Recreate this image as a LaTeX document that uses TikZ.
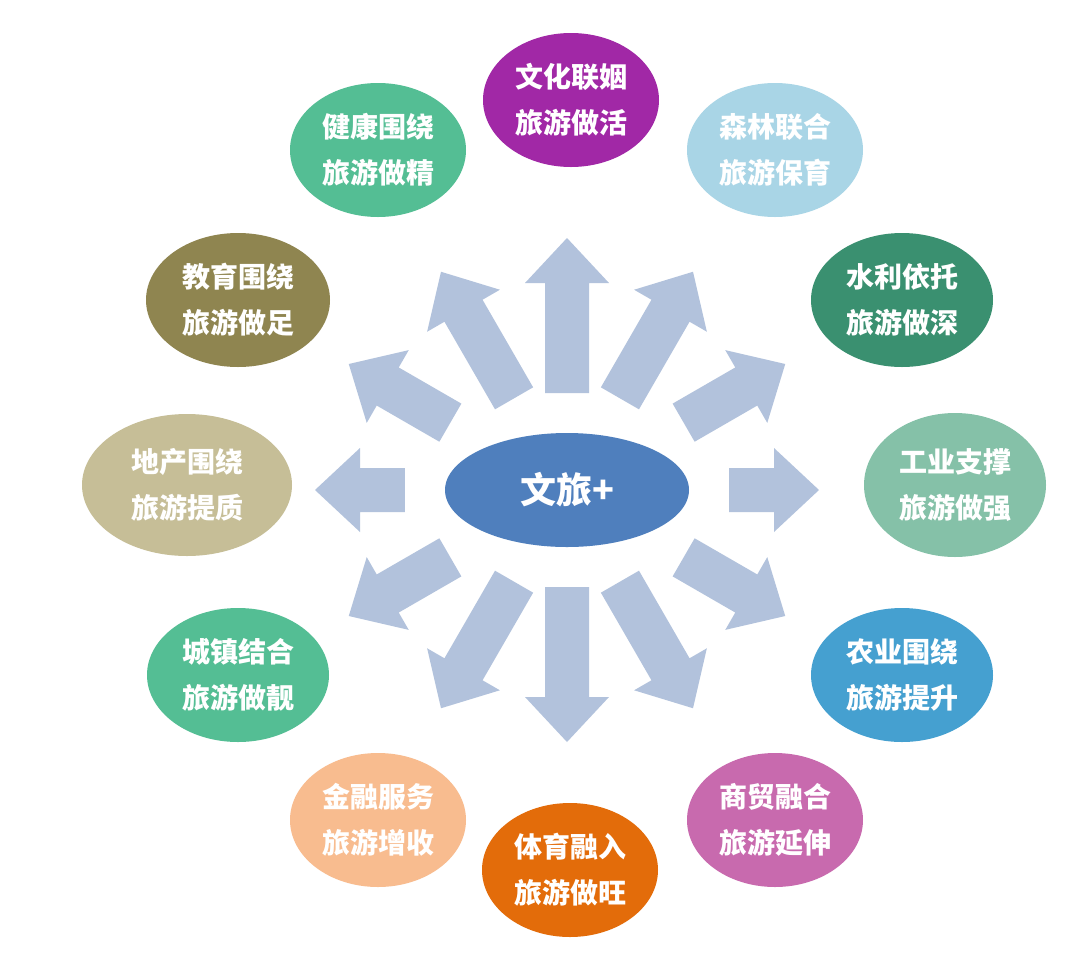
\documentclass[tikz,border=0pt]{standalone}
\usepackage{fontspec}
\newfontfamily\cjk{Noto Sans CJK SC}
\usetikzlibrary{shapes.geometric}
\definecolor{arr}{HTML}{B2C2DC}
\tikzset{
  bub/.style={ellipse, minimum width=176pt, minimum height=134pt, inner sep=0pt, text=white, align=center, font=\cjk\bfseries\fontsize{28}{46}\selectfont},
}
\begin{document}
\begin{tikzpicture}[x=1pt,y=-1pt]
\useasboundingbox (0,0) rectangle (1080,970);
\fill[white] (0,0) rectangle (1080,970);
\foreach \a in {0,30,...,330}{
  \pgfmathsetmacro{\rr}{100/sqrt((cos(\a)/1.62)^2+(sin(\a)/0.97)^2)}
  \begin{scope}[shift={(567,490)},rotate=\a]
    \fill[arr] (\rr,-22) -- (207,-22) -- (207,-42) -- (252,0) -- (207,42) -- (207,22) -- (\rr,22) -- cycle;
  \end{scope}
}
\node[ellipse, minimum width=244pt, minimum height=114pt, fill={rgb,255:red,79;green,127;blue,189}, text=white, font=\cjk\bfseries\fontsize{36}{40}\selectfont] (c) at (567,490) {文旅+};
\node[bub, fill={rgb,255:red,161;green,40;blue,166}] (n1) at (571,100) {文化联姻\\旅游做活};
\node[bub, fill={rgb,255:red,169;green,213;blue,230}] (n2) at (775,150) {森林联合\\旅游保育};
\node[bub, fill={rgb,255:red,58;green,144;blue,112}, minimum width=182pt] (n3) at (902,300) {水利依托\\旅游做深};
\node[bub, fill={rgb,255:red,133;green,193;blue,168}, minimum width=182pt, minimum height=144pt] (n4) at (955,485) {工业支撑\\旅游做强};
\node[bub, fill={rgb,255:red,69;green,160;blue,208}, minimum width=182pt] (n5) at (902,675) {农业围绕\\旅游提升};
\node[bub, fill={rgb,255:red,200;green,106;blue,174}] (n6) at (775,820) {商贸融合\\旅游延伸};
\node[bub, fill={rgb,255:red,227;green,108;blue,10}] (n7) at (570,870) {体育融入\\旅游做旺};
\node[bub, fill={rgb,255:red,248;green,188;blue,143}] (n8) at (378,820) {金融服务\\旅游增收};
\node[bub, fill={rgb,255:red,84;green,190;blue,148}, minimum width=182pt] (n9) at (238,675) {城镇结合\\旅游做靓};
\node[bub, fill={rgb,255:red,198;green,190;blue,151}, minimum width=210pt, minimum height=142pt] (n10) at (187,485) {地产围绕\\旅游提质};
\node[bub, fill={rgb,255:red,143;green,133;blue,80}, minimum width=184pt] (n11) at (238,300) {教育围绕\\旅游做足};
\node[bub, fill={rgb,255:red,84;green,190;blue,148}] (n12) at (378,150) {健康围绕\\旅游做精};
\end{tikzpicture}
\end{document}
